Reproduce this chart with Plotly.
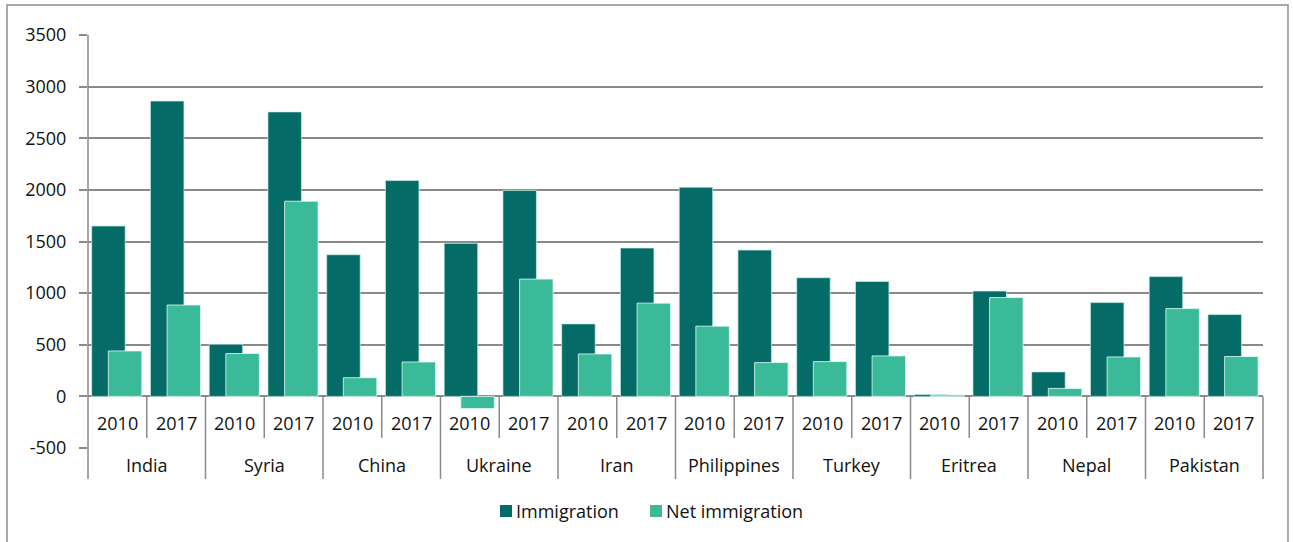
import plotly.graph_objects as go

# Top ten countries, immigration and net immigration (persons)
countries = ["India", "Syria", "China", "Ukraine", "Iran",
             "Philippines", "Turkey", "Eritrea", "Nepal", "Pakistan"]
years = ["2010", "2017"]

immigration = [1650, 2860, 505, 2755, 1372, 2090, 1482, 1994, 702, 1437,
               2026, 1417, 1149, 1113, 19, 1020, 237, 908, 1160, 792]
net_immigration = [440, 885, 415, 1890, 181, 333, -117, 1136, 411, 903,
                   680, 327, 337, 392, 13, 957, 77, 382, 850, 386]

y_ticks = [-500, 0, 500, 1000, 1500, 2000, 2500, 3000, 3500]

series_names = ["Immigration", "Net immigration"]

DARK = "#056b66"
LIGHT = "#3bba9a"
GRID = "#8a8a8a"
TEXT = "#111111"
FONT = "Open Sans"
FS = 18

W, H = 1293, 542
L, R, T, B = 88, 30, 35, 94
PW, PH = W - L - R, H - T - B

slots = [f"{c} {y}" for c in countries for y in years]
n = len(slots)


def px_x(p):
    return (p - L) / PW


def px_y(p):
    return (T + PH - p) / PH


fig = go.Figure()
fig.add_trace(go.Bar(
    name=series_names[0], x=slots, y=immigration,
    marker=dict(color=DARK, line=dict(color="rgba(200,240,235,0.7)", width=1)),
    width=0.57, offset=-0.437, showlegend=False,
))
fig.add_trace(go.Bar(
    name=series_names[1], x=slots, y=net_immigration,
    marker=dict(color=LIGHT, line=dict(color="rgba(225,250,245,0.8)", width=1)),
    width=0.57, offset=-0.154, showlegend=False,
))

shapes = []
line = dict(color=GRID, width=1.5)
y_zero = T + PH * 3500 / 4000
# left axis line running down through the category table
shapes.append(dict(type="line", xref="paper", yref="paper",
                   x0=0, x1=0, y0=1, y1=px_y(479), line=line))
# right edge of the category table
shapes.append(dict(type="line", xref="paper", yref="paper",
                   x0=1, x1=1, y0=px_y(y_zero), y1=px_y(479), line=line))
for i in range(1, len(countries)):
    xp = 2 * i / n
    shapes.append(dict(type="line", xref="paper", yref="paper",
                       x0=xp, x1=xp, y0=px_y(y_zero), y1=px_y(479), line=line))
for i in range(len(countries)):
    xp = (2 * i + 1) / n
    shapes.append(dict(type="line", xref="paper", yref="paper",
                       x0=xp, x1=xp, y0=px_y(y_zero), y1=px_y(438), line=line))
# outer frame
shapes.append(dict(type="rect", xref="paper", yref="paper",
                   x0=px_x(7), x1=px_x(1288), y0=px_y(5), y1=px_y(560),
                   line=dict(color="#8f8f8f", width=1.5), fillcolor="rgba(0,0,0,0)"))

annotations = []
for s in slots:
    annotations.append(dict(x=s, y=-262, xref="x", yref="y", text=s.split(" ")[-1],
                            showarrow=False, font=dict(family=FONT, size=FS, color=TEXT),
                            xanchor="center", yanchor="middle"))
for i, c in enumerate(countries):
    annotations.append(dict(x=(2 * i + 1) / n, y=px_y(465), xref="paper", yref="paper",
                            text=c, showarrow=False,
                            font=dict(family=FONT, size=FS, color=TEXT),
                            xanchor="center", yanchor="middle"))

# legend: colour key squares followed by series names
legend_y = px_y(511)
key_left = [500, 650]
for name, color, x0 in zip(series_names, [DARK, LIGHT], key_left):
    shapes.append(dict(type="rect", xref="paper", yref="paper",
                       x0=px_x(x0), x1=px_x(x0 + 12),
                       y0=legend_y - 6 / PH, y1=legend_y + 6 / PH,
                       line=dict(width=0), fillcolor=color))
    annotations.append(dict(x=px_x(x0 + 14), y=legend_y, xref="paper", yref="paper",
                            text=name, showarrow=False,
                            font=dict(family=FONT, size=FS, color=TEXT),
                            xanchor="left", yanchor="middle"))

fig.update_layout(
    width=W, height=H,
    margin=dict(l=L, r=R, t=T, b=B),
    paper_bgcolor="white", plot_bgcolor="white",
    barmode="overlay",
    font=dict(family=FONT, size=FS, color=TEXT),
    showlegend=False,
    shapes=shapes,
    annotations=annotations,
    xaxis=dict(type="category", range=[-0.5, n - 0.5], showticklabels=False,
               showgrid=False, zeroline=False, showline=False, ticks=""),
    yaxis=dict(range=[-500, 3500], tickvals=y_ticks, ticktext=[str(v) for v in y_ticks],
               showgrid=True, gridcolor=GRID, gridwidth=1.5,
               zeroline=True, zerolinecolor=GRID, zerolinewidth=1.5,
               showline=False, ticks="outside", ticklen=8, tickcolor=GRID, tickwidth=1.5,
               ticklabelstandoff=9,
               tickfont=dict(family=FONT, size=FS, color=TEXT)),
)

fig.write_html("out.html")
